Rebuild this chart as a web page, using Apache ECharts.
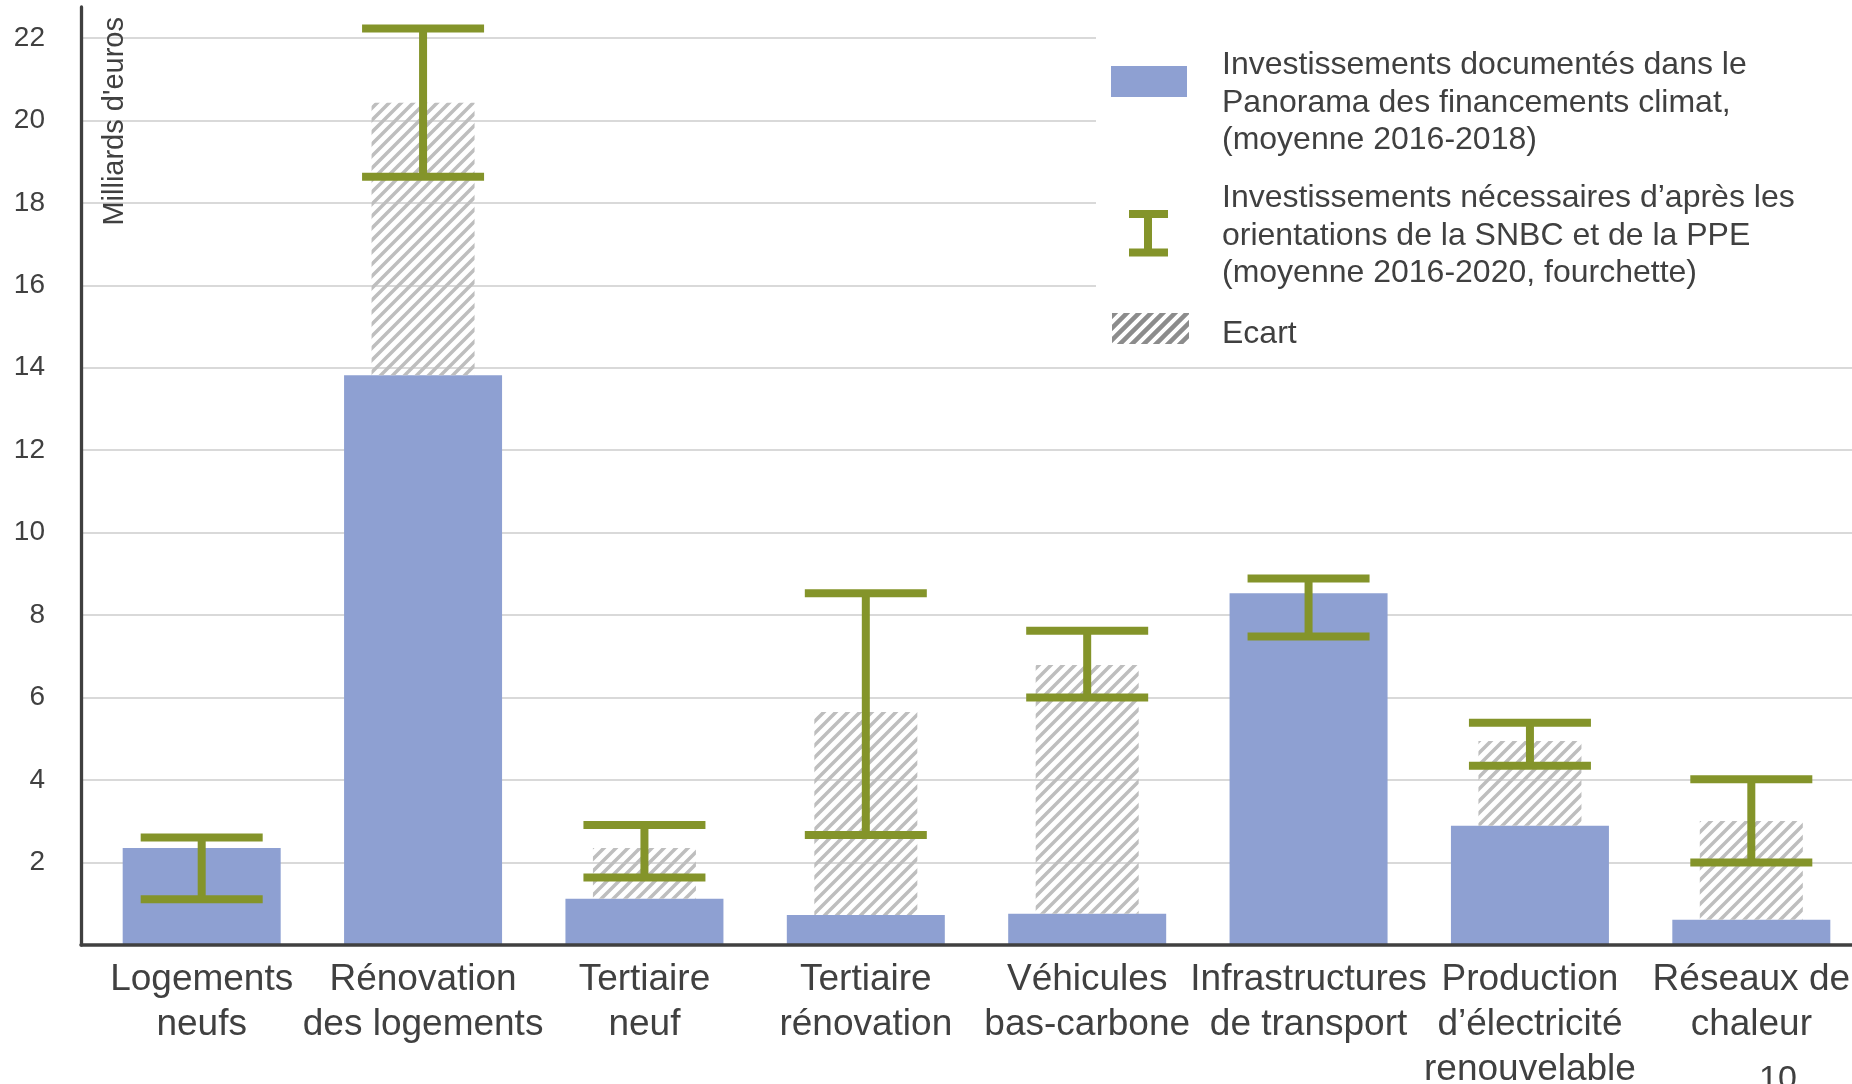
<!DOCTYPE html>
<html><head><meta charset="utf-8">
<script src="https://cdn.jsdelivr.net/npm/echarts@6/dist/echarts.min.js"></script>
<style>html,body{margin:0;padding:0;background:#fff}#c{width:1852px;height:1084px}</style>
</head><body><div id="c"></div>
<script>
const categories = [
  'Logements\nneufs',
  'Rénovation\ndes logements',
  'Tertiaire\nneuf',
  'Tertiaire\nrénovation',
  'Véhicules\nbas-carbone',
  'Infrastructures\nde transport',
  'Production\nd’électricité\nrenouvelable',
  'Réseaux de\nchaleur'
];
// Investissements documentés (moyenne 2016-2018), Md€
const documented = [2.35, 13.82, 1.12, 0.73, 0.76, 8.53, 2.89, 0.61];
// Investissements nécessaires (fourchette basse / haute), Md€
const neededLow  = [1.11, 18.63, 1.64, 2.67, 6.00, 7.48, 4.35, 2.00];
const neededHigh = [2.61, 22.23, 2.91, 8.53, 7.62, 8.89, 5.39, 4.02];
// Sommet de la zone "Ecart" (hachurée), null = pas d'écart
const gapTop = [null, 20.43, 2.35, 5.65, 6.79, null, 4.95, 3.01];
const yMin = 0, yMax = 22.75, yStep = 2;

const legendTexts = [
  'Investissements documentés dans le\nPanorama des financements climat,\n(moyenne 2016-2018)',
  'Investissements nécessaires d’après les\norientations de la SNBC et de la PPE\n(moyenne 2016-2020, fourchette)',
  'Ecart'
];
const yTitle = "Milliards d'euros";
const pageNumber = '10';

const FONT = '"Liberation Sans", Arial, Helvetica, sans-serif';
const TXT = '#404040';
const BLUE = '#8EA0D2';
const OLIVE = '#84942A';

function makeHatch(color, lw, size) {
  const c = document.createElement('canvas');
  c.width = size; c.height = size;
  const g = c.getContext('2d');
  g.strokeStyle = color; g.lineWidth = lw; g.lineCap = 'square';
  g.beginPath();
  g.moveTo(0, size); g.lineTo(size, 0);
  g.moveTo(-size / 2, size / 2); g.lineTo(size / 2, -size / 2);
  g.moveTo(size / 2, size * 1.5); g.lineTo(size * 1.5, size / 2);
  g.stroke();
  return c;
}
const hatchBar = { image: makeHatch('#BEBEBE', 3.5, 12), repeat: 'repeat' };
const hatchIcon = { image: makeHatch('#8C8C8C', 4.5, 12), repeat: 'repeat' };

const gapData = [];
gapTop.forEach((t, i) => { if (t != null) gapData.push([i, documented[i], t]); });
const errData = neededLow.map((lo, i) => [i, lo, neededHigh[i]]);

const chart = echarts.init(document.getElementById('c'));
chart.setOption({
  animation: false,
  backgroundColor: '#ffffff',
  textStyle: { fontFamily: FONT },
  grid: [
    { left: 81, top: 7, right: 0, height: 938, containLabel: false, outerBoundsMode: 'none' },
    { left: 91, top: 7, width: 1771, height: 938, containLabel: false, outerBoundsMode: 'none' }
  ],
  xAxis: [
    { gridIndex: 0, type: 'value', min: 0, max: 1, z: 5,
      axisLine: { show: true, onZero: false, lineStyle: { color: '#404040', width: 3.5 } },
      axisTick: { show: false }, axisLabel: { show: false }, splitLine: { show: false } },
    { gridIndex: 1, type: 'category', data: categories,
      axisLine: { show: false }, axisTick: { show: false },
      axisLabel: { color: TXT, fontSize: 37, lineHeight: 45, margin: 12, fontFamily: FONT, interval: 0 } }
  ],
  yAxis: [
    { gridIndex: 0, type: 'value', min: yMin, max: yMax, interval: yStep,
      axisLine: { show: true, lineStyle: { color: '#404040', width: 3.3 } },
      axisTick: { show: false },
      axisLabel: { color: TXT, fontSize: 28, margin: 36, fontFamily: FONT, showMinLabel: false, showMaxLabel: false },
      splitLine: { show: true, showMinLine: false, showMaxLine: false, lineStyle: { color: '#D9D9D9', width: 2 } } },
    { gridIndex: 1, type: 'value', min: yMin, max: yMax, show: false, splitLine: { show: false } }
  ],
  series: [
    { name: 'Investissements documentés', type: 'bar', xAxisIndex: 1, yAxisIndex: 1,
      data: documented, barWidth: 158, itemStyle: { color: BLUE }, z: 2 },
    { name: 'Ecart', type: 'custom', xAxisIndex: 1, yAxisIndex: 1, z: 3,
      data: gapData, encode: { x: 0, y: [1, 2] },
      renderItem: function (params, api) {
        const i = api.value(0);
        const pLo = api.coord([i, api.value(1)]);
        const pHi = api.coord([i, api.value(2)]);
        return { type: 'rect', shape: { x: pHi[0] - 51.5, y: pHi[1], width: 103, height: pLo[1] - pHi[1] },
                 style: { fill: hatchBar } };
      } },
    { name: 'Investissements nécessaires', type: 'custom', xAxisIndex: 1, yAxisIndex: 1, z: 4,
      data: errData, encode: { x: 0, y: [1, 2] },
      renderItem: function (params, api) {
        const i = api.value(0);
        const pLo = api.coord([i, api.value(1)]);
        const pHi = api.coord([i, api.value(2)]);
        const x = pLo[0], hw = 61;
        const st = { stroke: OLIVE, lineWidth: 8, lineCap: 'butt' };
        return { type: 'group', children: [
          { type: 'line', shape: { x1: x, y1: pHi[1], x2: x, y2: pLo[1] }, style: st },
          { type: 'line', shape: { x1: x - hw, y1: pHi[1], x2: x + hw, y2: pHi[1] }, style: st },
          { type: 'line', shape: { x1: x - hw, y1: pLo[1], x2: x + hw, y2: pLo[1] }, style: st }
        ] };
      } }
  ],
  graphic: [
    { type: 'rect', z: 100, shape: { x: 1096, y: 0, width: 760, height: 355 }, style: { fill: '#ffffff' } },
    { type: 'rect', z: 101, shape: { x: 1111, y: 66, width: 76, height: 31 }, style: { fill: BLUE } },
    { type: 'rect', z: 101, shape: { x: 1129, y: 210, width: 39, height: 8 }, style: { fill: OLIVE } },
    { type: 'rect', z: 101, shape: { x: 1129, y: 248.5, width: 39, height: 8 }, style: { fill: OLIVE } },
    { type: 'rect', z: 101, shape: { x: 1144, y: 212, width: 8, height: 42 }, style: { fill: OLIVE } },
    { type: 'rect', z: 101, shape: { x: 1112, y: 313, width: 77, height: 31 }, style: { fill: hatchIcon } },
    { type: 'text', z: 101, x: 1222, y: 46.5, style: { text: legendTexts[0], fill: TXT, fontSize: 32, fontFamily: FONT, lineHeight: 37.5, align: 'left', verticalAlign: 'top' } },
    { type: 'text', z: 101, x: 1222, y: 179.5, style: { text: legendTexts[1], fill: TXT, fontSize: 32, fontFamily: FONT, lineHeight: 37.5, align: 'left', verticalAlign: 'top' } },
    { type: 'text', z: 101, x: 1222, y: 315, style: { text: legendTexts[2], fill: TXT, fontSize: 32, fontFamily: FONT, lineHeight: 37.5, align: 'left', verticalAlign: 'top' } },
    { type: 'text', z: 101, x: 114.5, y: 17, rotation: Math.PI / 2, style: { text: yTitle, fill: TXT, fontSize: 29, fontFamily: FONT, align: 'right', verticalAlign: 'middle' } },
    { type: 'text', z: 101, x: 1778, y: 1080, style: { text: pageNumber, fill: TXT, fontSize: 34, fontFamily: FONT, align: 'center', verticalAlign: 'middle' } }
  ]
});
</script>
</body></html>
